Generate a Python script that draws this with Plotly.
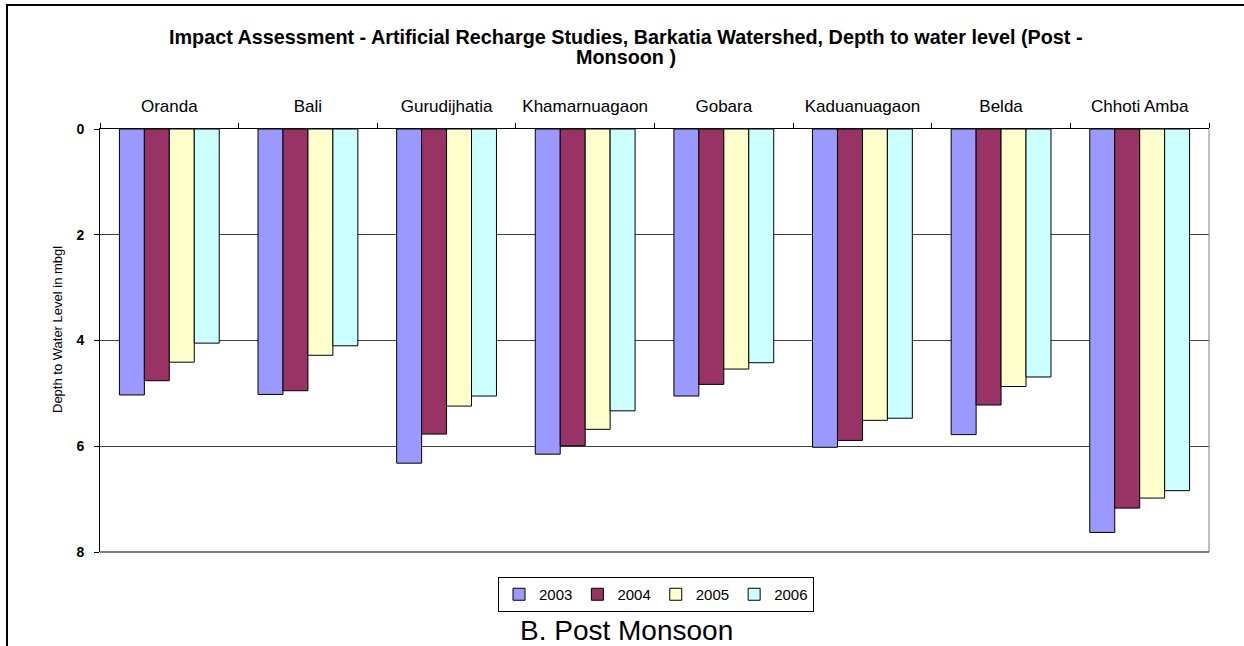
import plotly.graph_objects as go

categories = ["Oranda", "Bali", "Gurudijhatia", "Khamarnuagaon", "Gobara",
              "Kaduanuagaon", "Belda", "Chhoti Amba"]
years = ["2003", "2004", "2005", "2006"]
d2003 = [5.03, 5.02, 6.32, 6.15, 5.05, 6.02, 5.78, 7.63]
d2004 = [4.76, 4.95, 5.77, 5.99, 4.83, 5.89, 5.22, 7.17]
d2005 = [4.41, 4.28, 5.24, 5.68, 4.54, 5.51, 4.87, 6.98]
d2006 = [4.05, 4.10, 5.05, 5.33, 4.42, 5.47, 4.69, 6.84]
series = [d2003, d2004, d2005, d2006]
colors = ["#9999FF", "#993366", "#FFFFCC", "#CCFFFF"]
yticks = [0, 2, 4, 6, 8]

ARIAL = "Liberation Sans, Arial, sans-serif"

fig = go.Figure()
for name, vals, col in zip(years, series, colors):
    fig.add_trace(go.Bar(
        x=categories, y=vals, name=name,
        marker=dict(color=col, line=dict(color="#000000", width=1)),
    ))

W, H = 1244, 646
L, R, T, B = 100, 35, 129, 94
pw, ph = W - L - R, H - T - B

def px2x(px):
    return (px - L) / pw

def px2y(py):
    return (H - B - py) / ph

fig.update_layout(
    width=W, height=H,
    margin=dict(l=L, r=R, t=T, b=B, autoexpand=False),
    paper_bgcolor="white", plot_bgcolor="white",
    barmode="group", bargap=0.28, bargroupgap=0,
    showlegend=True,
    legend=dict(
        orientation="h", x=px2x(656), xanchor="center",
        y=px2y(577), yanchor="top",
        bordercolor="#000000", borderwidth=1, bgcolor="white",
        font=dict(family=ARIAL, size=15, color="#000000"),
        itemwidth=30, tracegroupgap=0,
    ),
    xaxis=dict(
        side="top", type="category",
        showline=True, linecolor="#000000", linewidth=1,
        ticks="outside", ticklen=5, tickcolor="#000000", tickson="boundaries",
        ticklabelstandoff=9,
        tickfont=dict(family=ARIAL, size=17, color="#000000"),
        showgrid=False, mirror=False,
    ),
    yaxis=dict(
        range=[8, 0], tickvals=yticks, ticktext=[str(v) for v in yticks],
        showline=True, linecolor="#000000", linewidth=1,
        ticks="outside", ticklen=5, tickcolor="#000000",
        ticklabelstandoff=7,
        tickfont=dict(family=ARIAL, size=14, color="#000000", weight="bold"),
        showgrid=True, gridcolor="#404040", gridwidth=1,
        zeroline=False,
    ),
    annotations=[
        dict(text="<b>Impact Assessment - Artificial Recharge Studies, Barkatia Watershed, Depth to water level (Post -</b>",
             xref="paper", yref="paper", x=px2x(626), y=px2y(37),
             xanchor="center", yanchor="middle", showarrow=False,
             font=dict(family=ARIAL, size=19.8, color="#000000")),
        dict(text="<b>Monsoon )</b>",
             xref="paper", yref="paper", x=px2x(626), y=px2y(57),
             xanchor="center", yanchor="middle", showarrow=False,
             font=dict(family=ARIAL, size=19.8, color="#000000")),
        dict(text="Depth to Water Level in mbgl",
             xref="paper", yref="paper", x=px2x(57), y=px2y(330),
             xanchor="center", yanchor="middle", showarrow=False, textangle=-90,
             font=dict(family=ARIAL, size=13, color="#000000")),
        dict(text="B. Post Monsoon",
             xref="paper", yref="paper", x=px2x(626), y=px2y(630),
             xanchor="center", yanchor="middle", showarrow=False,
             font=dict(family=ARIAL, size=28, color="#000000")),
    ],
    shapes=[
        dict(type="line", xref="paper", yref="paper", x0=1, x1=1, y0=0, y1=1,
             line=dict(color="#808080", width=1)),
        dict(type="line", xref="paper", yref="paper", x0=0, x1=1, y0=0, y1=0,
             line=dict(color="#000000", width=1)),
        dict(type="line", xref="paper", yref="paper", x0=px2x(6), x1=px2x(1250),
             y0=px2y(5), y1=px2y(5), line=dict(color="#000000", width=2)),
        dict(type="line", xref="paper", yref="paper", x0=px2x(7), x1=px2x(7),
             y0=px2y(4), y1=px2y(650), line=dict(color="#000000", width=2)),
    ],
)

fig.write_html("out.html", config={"displayModeBar": False},
               post_script="document.body.style.margin='0';document.body.style.overflow='hidden';")
